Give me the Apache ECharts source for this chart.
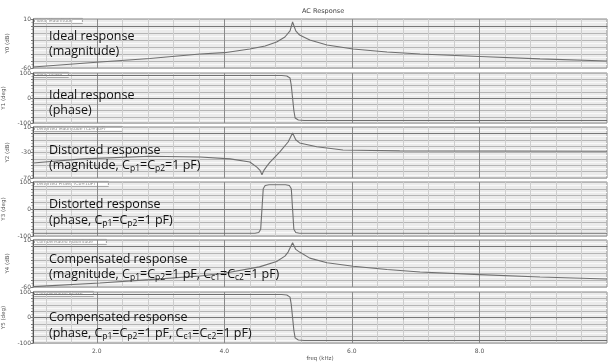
<!DOCTYPE html>
<html>
<head>
<meta charset="utf-8">
<script src="https://cdn.jsdelivr.net/npm/echarts@6/dist/echarts.min.js"></script>
<style>
html, body { margin: 0; padding: 0; background: #fff; }
#chart { width: 612px; height: 362px; }
</style>
</head>
<body>
<div id="chart"></div>
<script>
// freq (kHz) vs value
const idealMag = [[1.0, -58.6], [2.05, -51.4], [2.83, -46.4], [3.62, -40], [4.0, -38.1], [4.4, -32.9], [4.64, -28.6],
    [4.82, -22.9], [4.95, -15.7], [5.03, -7], [5.07, 5.7], [5.12, -7], [5.18, -12.9], [5.34, -20], [5.61, -27.1],
    [6.02, -32.9], [6.55, -37.1], [7.07, -40], [8.0, -43.6], [8.95, -47], [10.0, -50]];
const idealPhase = [[1.0, 90], [4.9, 90], [4.98, 88], [5.03, 80], [5.05, 50], [5.07, 0], [5.09, -50], [5.11, -80],
    [5.16, -88], [5.25, -90], [10.0, -90]];
const distMag = [[1.0, -46.5], [1.78, -40], [2.83, -36], [3.62, -37], [4.09, -40], [4.4, -45], [4.51, -53], [4.56, -58],
    [4.59, -65], [4.62, -58], [4.67, -51], [4.71, -46], [4.87, -29], [5.0, -13.5], [5.07, 0.6], [5.12, -10],
    [5.18, -15], [5.45, -21], [5.86, -26], [6.75, -27.5], [10.0, -28]];
const distPhase = [[1.0, -90], [4.48, -90], [4.54, -87], [4.57, -75], [4.59, 0], [4.61, 75], [4.64, 87], [4.7, 90],
    [4.96, 90], [5.02, 87], [5.05, 75], [5.07, 0], [5.09, -75], [5.12, -87], [5.18, -90], [10.0, -90]];
const compMag = [[1.0, -59.5], [2.05, -54], [2.83, -49], [3.62, -43.6], [4.0, -39.5], [4.55, -30], [4.82, -22],
    [4.95, -14], [5.0, -8], [5.07, 6], [5.12, -4], [5.18, -8], [5.34, -17], [5.61, -24], [6.02, -29],
    [6.55, -34], [7.07, -37.6], [8.0, -41.5], [8.95, -45], [10.0, -48]];
const compPhase = [[1.0, 90], [4.9, 90], [4.98, 88], [5.03, 80], [5.05, 50], [5.07, 0], [5.09, -50], [5.11, -80],
    [5.16, -88], [5.25, -90], [10.0, -90]];

const seriesData = [idealMag, idealPhase, distMag, distPhase, compMag, compPhase];
const yMins = [-60, -100, -70, -100, -60, -100];
const yMaxs = [10, 100, 10, 100, 10, 100];
const ySteps = [10, 25, 10, 25, 10, 25];
const yShown = [[10, -60], [100, 0, -100], [10, -30, -70], [100, 0, -100], [10, -60], [100, 0, -100]];
const yNames = ['Y0 (dB)', 'Y1 (deg)', 'Y2 (dB)', 'Y3 (deg)', 'Y4 (dB)', 'Y5 (deg)'];
const tabNames = ['Ideal Magnitude', 'Ideal phase', 'Distorted Magnitude (Cp=1pF)', 'Distorted Phase (Cp=1pF)',
    'Compensated Magnitude', 'Compensated Phase'];
const captions = [
    '{n|Ideal response}\n{n|(magnitude)}',
    '{n|Ideal response}\n{n|(phase)}',
    '{n|Distorted response}\n{n|(magnitude, C}{s|p1}{n|=C}{s|p2}{n|=1 pF)}',
    '{n|Distorted response}\n{n|(phase, C}{s|p1}{n|=C}{s|p2}{n|=1 pF)}',
    '{n|Compensated response}\n{n|(magnitude, C}{s|p1}{n|=C}{s|p2}{n|=1 pF, C}{s|c1}{n|=C}{s|c2}{n|=1 pF)}',
    '{n|Compensated response}\n{n|(phase, C}{s|p1}{n|=C}{s|p2}{n|=1 pF, C}{s|c1}{n|=C}{s|c2}{n|=1 pF)}'
];
const xGridValues = [1.2, 1.6, 2.0, 2.4, 2.8, 3.2, 3.6, 4.0, 4.4, 4.8, 5.2, 5.6, 6.0, 6.4, 6.8, 7.2, 7.6, 8.0,
    8.4, 8.8, 9.2, 9.6];
const xLabelValues = [2, 4, 6, 8];

// layout
const tops = [19, 73, 127, 182, 240, 292];
const bottoms = [68, 123, 178, 236, 287, 343];
const tabWidths = [48, 34, 88, 74, 72, 59];
const captionTops = [29.5, 88.5, 143.5, 198, 252.5, 311];

const chart = echarts.init(document.getElementById('chart'));

const grids = [], xAxes = [], yAxes = [], series = [], graphics = [];
const minorC = '#cdcdcd', majorC = '#8a8a8a';

tops.forEach((top, i) => {
    const last = i === tops.length - 1;
    grids.push({
        left: 33, right: 5, top: top, height: bottoms[i] - top,
        outerBoundsMode: 'none', containLabel: false,
        show: true, backgroundColor: '#ebebeb', borderColor: '#8a8a8a', borderWidth: 1
    });
    xAxes.push({
        type: 'value', gridIndex: i, min: 1, max: 10,
        axisLine: { show: true, lineStyle: { color: '#777' } },
        axisTick: { show: last, customValues: xGridValues, length: 2, lineStyle: { color: '#999' } },
        axisLabel: {
            show: last, customValues: xLabelValues, fontSize: 6, color: '#555', margin: 5,
            fontFamily: 'DejaVu Sans', formatter: v => v.toFixed(1)
        },
        splitLine: { show: true, lineStyle: { color: [minorC, minorC, majorC, minorC, minorC], width: 1 } },
        name: last ? 'freq (kHz)' : '', nameLocation: 'middle', nameGap: 13,
        nameTextStyle: { fontSize: 5.5, color: '#555', fontFamily: 'DejaVu Sans' }
    });
    yAxes.push({
        type: 'value', gridIndex: i, min: yMins[i], max: yMaxs[i], interval: ySteps[i],
        axisLine: { show: true, lineStyle: { color: '#555' } },
        axisTick: { show: true, length: 2, lineStyle: { color: '#777' } },
        minorTick: { show: true, splitNumber: 2, length: 1.5, lineStyle: { color: '#999' } },
        axisLabel: {
            fontSize: 6, color: '#555', margin: 2, fontFamily: 'DejaVu Sans',
            formatter: v => (yShown[i].indexOf(v) >= 0 ? String(v) : '')
        },
        splitLine: { show: true, lineStyle: { color: '#b5b5b5', width: 1 } },
        minorSplitLine: { show: true, lineStyle: { color: '#f9f9f9', width: 1 } },
        name: yNames[i], nameLocation: 'middle', nameRotate: 90, nameGap: 19,
        nameTextStyle: { fontSize: 5.5, color: '#555', fontFamily: 'DejaVu Sans' }
    });
    series.push({
        type: 'line', xAxisIndex: i, yAxisIndex: i, data: seriesData[i],
        showSymbol: false, smooth: false, z: 3,
        lineStyle: { color: '#6f6f6f', width: 1.1 }
    });

    // small legend tab at the top-left of each panel
    graphics.push({
        type: 'group', left: 34, top: top - 1, z: 10,
        children: [
            { type: 'rect', shape: { x: 0, y: 0, width: tabWidths[i], height: 5 },
              style: { fill: '#fff', stroke: '#8a8a8a', lineWidth: 0.8 } },
            { type: 'text', x: 2, y: 0.3,
              style: { text: tabNames[i], fontSize: 4.5, fill: '#888', fontFamily: 'DejaVu Sans' } }
        ]
    });
    graphics.push({
        type: 'text', left: 49, top: captionTops[i], z: 10,
        style: {
            text: captions[i],
            rich: {
                n: { fontSize: 12.5, lineHeight: 15.5, fill: '#111', fontFamily: 'Open Sans' },
                s: { fontSize: 8.5, lineHeight: 8, verticalAlign: 'bottom', fill: '#111', fontFamily: 'Open Sans' }
            }
        }
    });
});

chart.setOption({
    animation: false,
    backgroundColor: '#fff',
    title: {
        text: 'AC Response', left: 297, top: 3,
        textStyle: { fontSize: 6.5, fontWeight: 'normal', color: '#444', fontFamily: 'DejaVu Sans' }
    },
    grid: grids,
    xAxis: xAxes,
    yAxis: yAxes,
    series: series,
    graphic: graphics
});
</script>
</body>
</html>
